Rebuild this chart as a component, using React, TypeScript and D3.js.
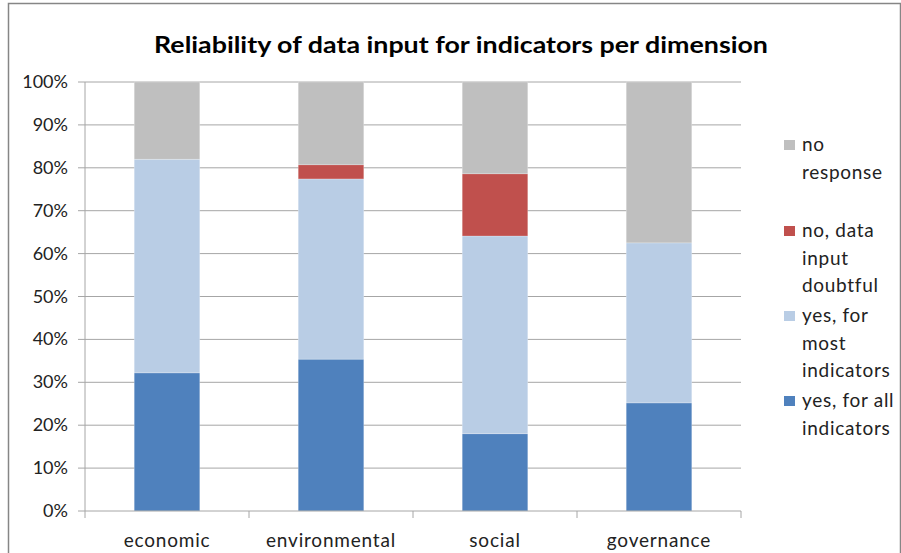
import React from "react";
import * as d3 from "d3";

const categories = ["economic", "environmental", "social", "governance"];
const seriesNames = ["yes, for all indicators", "yes, for most indicators", "no, data input doubtful", "no response"];
const yesAll = [32.2, 35.4, 18.0, 25.2];
const yesMost = [49.8, 42.0, 46.1, 37.3];
const noDoubtful = [0, 3.3, 14.5, 0];
const noResponse = [18.0, 19.3, 21.4, 37.5];
const yTicks = [0, 10, 20, 30, 40, 50, 60, 70, 80, 90, 100];
const colors = ["#4F81BD", "#B9CDE5", "#C0504D", "#BFBFBF"];
const legendLines = [["no", "response"], ["no, data", "input", "doubtful"], ["yes, for", "most", "indicators"], ["yes, for all", "indicators"]];

export default function App() {
  const W = 901, H = 553;
  const left = 85, right = 741, top = 82, bottom = 511;
  const x = d3.scaleBand().domain(categories).range([left, right]).paddingInner(0.6).paddingOuter(0.3);
  const xOuter = d3.scaleBand().domain(categories).range([left, right]);
  const y = d3.scaleLinear().domain([0, 100]).range([bottom, top]);
  const rows = categories.map((c, i) => ({ cat: c, a: yesAll[i], b: yesMost[i], c2: noDoubtful[i], d: noResponse[i] }));
  const stack = d3.stack<any>().keys(["a", "b", "c2", "d"]);
  const layers = stack(rows);
  const font = "Lato, Open Sans, sans-serif";
  const legendItems = [3, 2, 1, 0];
  const legendY = [151, 237, 322, 407];
  return (
    <svg width={W} height={H} style={{ position: "absolute", left: 0, top: 0, background: "#fff" }} fontFamily={font}>
      <rect x={8.5} y={3.5} width={892} height={570} fill="#fff" stroke="#868686" strokeWidth={1.5} />
      <text x={461} y={53} textAnchor="middle" fontSize={23} fontWeight="bold" fill="#000" textLength={614} lengthAdjust="spacingAndGlyphs">
        Reliability of data input for indicators per dimension
      </text>
      {yTicks.map((t) => (
        <g key={t}>
          {t > 0 && <line x1={left} x2={right} y1={y(t)} y2={y(t)} stroke="#a6a6a6" strokeWidth={1} />}
          <line x1={left - 7} x2={left} y1={y(t)} y2={y(t)} stroke="#a6a6a6" />
          <text x={68} y={y(t) + 6} textAnchor="end" fontSize={18} fill="#222">{t}%</text>
        </g>
      ))}
      {layers.map((layer, li) => (
        <g key={li}>
          {layer.map((d, i) => (
            d[1] - d[0] > 0 ? (
              <rect key={i} x={x(categories[i])!} width={x.bandwidth()} y={y(d[1])} height={y(d[0]) - y(d[1])} fill={colors[li]} stroke="#fff" strokeOpacity={0.4} strokeWidth={0.6} />
            ) : null
          ))}
        </g>
      ))}
      <line x1={left} x2={left} y1={top} y2={bottom} stroke="#a6a6a6" />
      <line x1={left} x2={right} y1={bottom} y2={bottom} stroke="#a6a6a6" />
      {categories.map((c, i) => (
        <line key={"s" + i} x1={xOuter(c)!} x2={xOuter(c)!} y1={bottom} y2={bottom + 7} stroke="#a6a6a6" />
      ))}
      <line x1={right} x2={right} y1={bottom} y2={bottom + 7} stroke="#a6a6a6" />
      {categories.map((c) => (
        <text key={c} x={x(c)! + x.bandwidth() / 2} y={547} textAnchor="middle" fontSize={19} letterSpacing={0.8} fill="#222">{c}</text>
      ))}
      {legendItems.map((si, k) => (
        <g key={si}>
          <rect x={784} y={legendY[k] - 11} width={11} height={10} fill={colors[si]} />
          {legendLines[k].map((ln, j) => (
            <text key={j} x={802} y={legendY[k] + j * 27.5} fontSize={19} letterSpacing={0.7} fill="#222">{ln}</text>
          ))}
        </g>
      ))}
    </svg>
  );
}
